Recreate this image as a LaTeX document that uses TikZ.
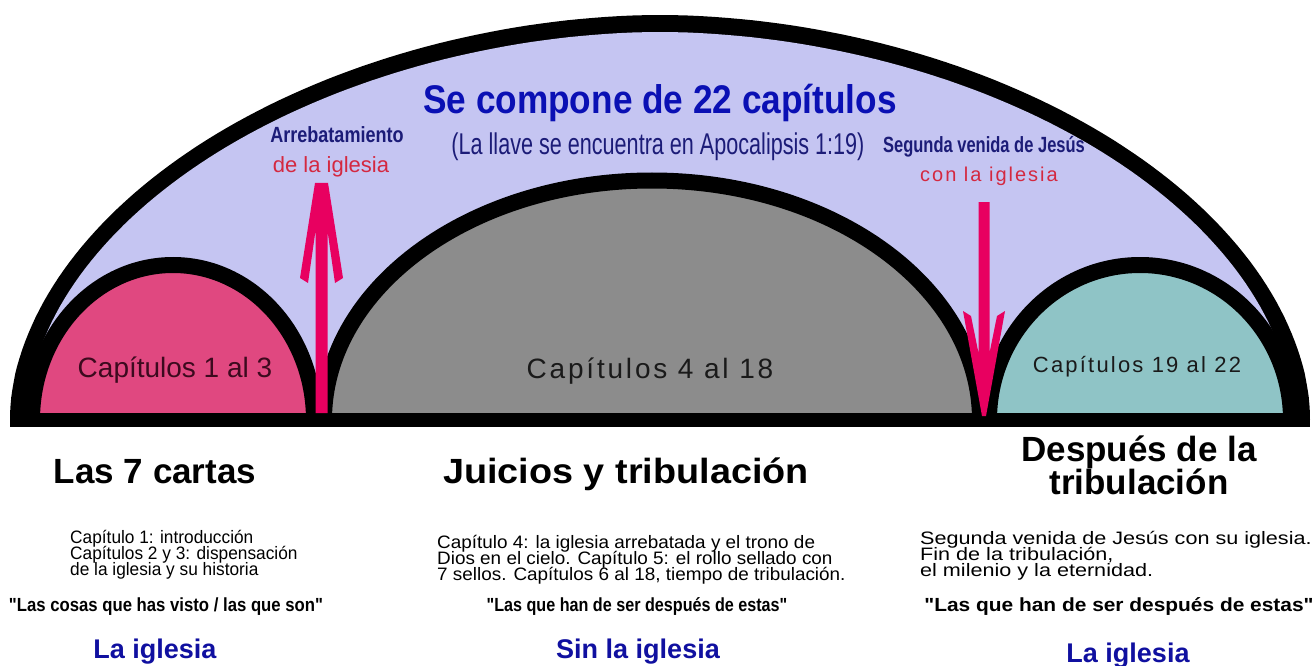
\documentclass[tikz,border=0pt]{standalone}
\usepackage{fontspec}
\setmainfont{Liberation Sans}
\newfontfamily\fntParen[FakeStretch=0.72]{Liberation Sans}
\newfontfamily\fntArr[FakeStretch=0.82]{Liberation Sans}
\newfontfamily\fntSeg[FakeStretch=0.75]{Liberation Sans}
\newfontfamily\fntTitle[FakeStretch=0.88]{Liberation Sans}
\newfontfamily\fntQmid[FakeStretch=0.85]{Liberation Sans}
\newfontfamily\fntQright[FakeStretch=1.1]{Liberation Sans}
\newfontfamily\fntWide[LetterSpace=10]{Liberation Sans}
\newfontfamily\fntHmid[FakeStretch=1.08]{Liberation Sans}
\newfontfamily\fntBodyL[FakeStretch=0.96]{Liberation Sans}
\newfontfamily\fntBodyM[FakeStretch=1.05]{Liberation Sans}
\newfontfamily\fntBodyR[FakeStretch=1.2]{Liberation Sans}
\definecolor{lav}{RGB}{197,197,242}
\definecolor{pinkfill}{RGB}{224,72,128}
\definecolor{grayfill}{RGB}{140,140,140}
\definecolor{tealfill}{RGB}{143,196,198}
\definecolor{arrowc}{RGB}{232,0,96}
\definecolor{titleblue}{RGB}{10,16,180}
\definecolor{navy}{RGB}{28,28,120}
\definecolor{redtxt}{RGB}{212,40,64}
\definecolor{maroon}{RGB}{60,10,30}
\definecolor{ltblue}{RGB}{16,16,160}
\definecolor{darktxt}{RGB}{26,26,26}
\tikzset{
  archline/.style={draw=black, line width=16pt},
  lbl/.style={anchor=base, inner sep=0pt},
  bodytxt/.style={anchor=base west, inner sep=0pt},
  header/.style={anchor=base, inner sep=0pt, font=\bfseries\fontsize{35}{36}\selectfont},
  quote/.style={anchor=base, inner sep=0pt},
  churchlbl/.style={anchor=base, inner sep=0pt, text=ltblue, font=\bfseries\fontsize{27}{28}\selectfont},
  domeplot/.style={domain=0.01:179.99, samples=150, variable=\t},
}
\begin{document}
\begin{tikzpicture}[x=1pt,y=-1pt]
\useasboundingbox (0,0) rectangle (1315,666);
\fill[white] (0,0) rectangle (1315,666);
% outer arch: black band between outer and inner edge (superellipse, n = 1.9)
\fill[black] plot[domeplot] ({660+650*cos(\t)*abs(cos(\t))^0.0526}, {420-405*abs(sin(\t))^1.0526}) -- cycle;
\fill[lav] plot[domeplot] ({660+633*cos(\t)*abs(cos(\t))^0.0526}, {420-388*abs(sin(\t))^1.0526}) -- cycle;
% pink arch
\fill[pinkfill] (32,420) arc[start angle=180,end angle=0,x radius=141pt,y radius=155pt] -- cycle;
\draw[archline] (32,420) arc[start angle=180,end angle=0,x radius=141pt,y radius=155pt];
% gray arch
\fill[grayfill] (324,420) arc[start angle=180,end angle=0,x radius=328pt,y radius=239.5pt] -- cycle;
\draw[archline] (324,420) arc[start angle=180,end angle=0,x radius=328pt,y radius=239.5pt];
% teal arch
\fill[tealfill] (989,420) arc[start angle=180,end angle=0,x radius=151pt,y radius=155pt] -- cycle;
\draw[archline] (989,420) arc[start angle=180,end angle=0,x radius=151pt,y radius=155pt];
% base bar
\fill[black] (10,413) rectangle (1310,427);
% up arrow
\fill[arrowc] (315,183) -- (328,183) -- (343,278) -- (335,283) -- (327.5,231) -- (327.5,413) -- (315.5,413) -- (315.5,231) -- (308,283) -- (300,278) -- cycle;
% down arrow
\fill[arrowc] (978.5,202) -- (989.5,202) -- (989.5,353) -- (997,316) -- (1005,311) -- (986,416) -- (982,416) -- (963,311) -- (971,316) -- (978.5,353) -- cycle;
% texts in arch
\node[lbl, text=titleblue, font=\fntTitle\bfseries\fontsize{40}{42}\selectfont] (title) at (660,114) {Se compone de 22 capítulos};
\node[lbl, text=navy, font=\fntParen\fontsize{30}{32}\selectfont] (llave) at (658,155) {(La llave se encuentra en Apocalipsis 1:19)};
\node[lbl, text=navy, font=\fntArr\bfseries\fontsize{22}{24}\selectfont] (arr) at (337,143) {Arrebatamiento};
\node[lbl, text=redtxt, font=\fontsize{22}{24}\selectfont] (arr2) at (331,172) {de la iglesia};
\node[lbl, text=navy, font=\fntSeg\bfseries\fontsize{22}{24}\selectfont] (seg) at (984,153) {Segunda venida de Jesús};
\node[lbl, text=redtxt, font=\fntWide\fontsize{20}{22}\selectfont] (seg2) at (989,182) {con la iglesia};
\node[lbl, text=maroon, font=\fontsize{28}{30}\selectfont] (c13) at (175,377) {Capítulos 1 al 3};
\node[lbl, text=darktxt, font=\fntWide\fontsize{28}{30}\selectfont] (c418) at (650,378) {Capítulos 4 al 18};
\node[lbl, text=darktxt, font=\fntWide\fontsize{22}{24}\selectfont] (c1922) at (1137,372) {Capítulos 19 al 22};
% headers
\node[header] (h1) at (155,483) {Las 7 cartas};
\node[header, font=\fntHmid\bfseries\fontsize{35}{36}\selectfont] (h2) at (626,483) {Juicios y tribulación};
\node[header] (h3) at (1139,461) {\vtop{\baselineskip=33pt\lineskiplimit=-100pt\halign{\hfil#\hfil\cr Después de la\cr tribulación\cr}}};
% bodies
\node[bodytxt, font=\fntBodyL\fontsize{18}{16}\selectfont] (b1) at (70,543) {\vtop{\baselineskip=16pt\lineskiplimit=-100pt\halign{#\hfil\cr Capítulo 1: introducción\cr Capítulos 2 y 3: dispensación\cr de la iglesia y su historia\cr}}};
\node[bodytxt, font=\fntBodyM\fontsize{18}{16}\selectfont] (b2) at (437,548) {\vtop{\baselineskip=16pt\lineskiplimit=-100pt\halign{#\hfil\cr Capítulo 4: la iglesia arrebatada y el trono de\cr Dios en el cielo. Capítulo 5: el rollo sellado con\cr 7 sellos. Capítulos 6 al 18, tiempo de tribulación.\cr}}};
\node[bodytxt, font=\fntBodyR\fontsize{18}{16}\selectfont] (b3) at (920,544) {\vtop{\baselineskip=16pt\lineskiplimit=-100pt\halign{#\hfil\cr Segunda venida de Jesús con su iglesia.\cr Fin de la tribulación,\cr el milenio y la eternidad.\cr}}};
% quotes
\node[quote, font=\fntTitle\bfseries\fontsize{19}{20}\selectfont] (q1) at (166,611) {"Las cosas que has visto / las que son"};
\node[quote, font=\fntQmid\bfseries\fontsize{19}{20}\selectfont] (q2) at (637,611) {"Las que han de ser después de estas"};
\node[quote, font=\fntQright\bfseries\fontsize{19}{20}\selectfont] (q3) at (1119,611) {"Las que han de ser después de estas"};
% church labels
\node[churchlbl] (l1) at (155,658) {La iglesia};
\node[churchlbl] (l2) at (638,658) {Sin la iglesia};
\node[churchlbl] (l3) at (1128,662) {La iglesia};
\end{tikzpicture}
\end{document}
